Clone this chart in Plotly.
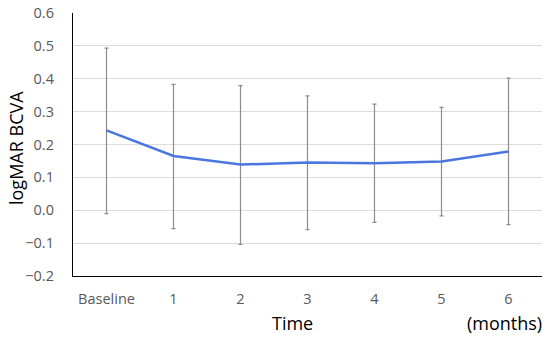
import plotly.graph_objects as go

categories = ["Baseline", "1", "2", "3", "4", "5", "6"]
mean_logmar = [0.243, 0.165, 0.139, 0.145, 0.143, 0.148, 0.179]
err_upper = [0.250, 0.218, 0.240, 0.203, 0.180, 0.165, 0.223]
err_lower = [0.253, 0.221, 0.243, 0.204, 0.180, 0.165, 0.223]
y_ticks = [-0.2, -0.1, 0.0, 0.1, 0.2, 0.3, 0.4, 0.5, 0.6]

FONT = "Open Sans, Lato, sans-serif"

W, H = 550, 338
L, R, T, B = 73, 8, 13, 62

fig = go.Figure()
fig.add_trace(go.Scatter(
    x=categories, y=mean_logmar, mode="lines",
    line=dict(color="#4a76e2", width=2.5),
    error_y=dict(type="data", symmetric=False, array=err_upper, arrayminus=err_lower,
                 color="#8c8c8c", thickness=1.2, width=2),
    showlegend=False, hoverinfo="skip",
))

fig.update_layout(
    width=W, height=H,
    margin=dict(l=L, r=R, t=T, b=B),
    paper_bgcolor="white", plot_bgcolor="white",
    font=dict(family=FONT, size=14.5, color="#595959"),
    xaxis=dict(
        type="category", range=[-0.5, 6.5], automargin=False,
        showline=True, linecolor="black", linewidth=1.3,
        showgrid=False, ticks="outside", ticklen=9, tickcolor="rgba(0,0,0,0)",
        tickfont=dict(family=FONT, size=14.5, color="#595959"),
    ),
    yaxis=dict(
        range=[-0.2, 0.6], tickvals=y_ticks, tickformat=".1f", automargin=False,
        showline=True, linecolor="black", linewidth=1.3,
        showgrid=True, gridcolor="#dcdcdc", gridwidth=1, zeroline=False,
        ticks="outside", ticklen=15, tickcolor="rgba(0,0,0,0)",
        tickfont=dict(family=FONT, size=14.5, color="#595959"),
    ),
    annotations=[
        dict(text="Time", x=292, y=323, xanchor="center", yanchor="middle"),
        dict(text="(months)", x=544, y=323, xanchor="right", yanchor="middle"),
        dict(text="logMAR BCVA", x=16, y=148, xanchor="center", yanchor="middle",
             textangle=-90),
    ],
)

# convert pixel positions of titles to paper coordinates
pw = W - L - R
ph = H - T - B
for a in fig.layout.annotations:
    a.x = (a.x - L) / pw
    a.y = (H - B - a.y) / ph
    a.xref = "paper"
    a.yref = "paper"
    a.showarrow = False
    a.font = dict(family=FONT, size=18, color="black")

fig.write_html("out.html", config={"displayModeBar": False},
               post_script="document.body.style.margin='0';")
